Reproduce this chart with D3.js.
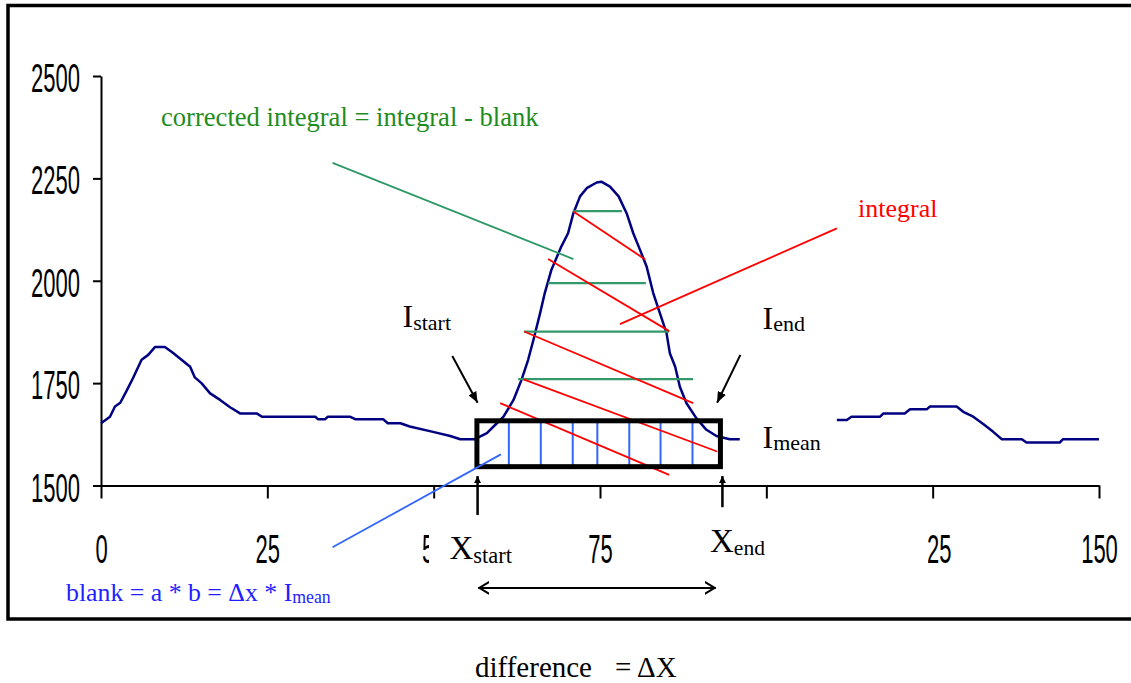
<!DOCTYPE html>
<html><head><meta charset="utf-8">
<script src="https://cdn.jsdelivr.net/npm/d3@7/dist/d3.min.js"></script>
<style>html,body{margin:0;padding:0;background:#fff;}svg{display:block;}</style>
</head><body>
<svg id="chart" width="1131" height="683"></svg>
<script>
// ---- data ----
const xTicks = [0, 25, 50, 75, 100, 125, 150];
const xHiddenLabels = [100]; // label fully covered by the X_end text box in the reference
const yTicks = [1500, 1750, 2000, 2250, 2500];

// signal, left segment (x, intensity)
const leftX = [0,1.35,2.1,2.9,3.9,4.8,6.1,7.1,8.1,9.6,10.8,12.1,13.4,14.1,15.1,16.4,17.9,19.4,20.9,23.4,24.2,32.2,32.6,33.7,34.1,37.4,38.2,42.4,43.1,45,46.4,49.9,52.5,54,56.2,58,59.5,60.5,62,63.2,64.2,65,66,66.7,67.7,69.2,70.2,71,72,73,74.5,75.2,76.5,77.8,79,80,81,82,83,84,85,85.5,86.3,87,88,89.5,91,92.5,94.5,96];
const leftY = [1652,1668,1693,1702,1733,1762,1807,1819,1838,1838,1824,1807,1790,1764,1750,1725,1709,1691,1676,1676,1668,1668,1662,1662,1668,1668,1662,1662,1652,1652,1644,1631,1621,1613,1613,1628,1652,1668,1709,1758,1807,1856,1921,1970,2027,2084,2116,2165,2206,2226,2240,2242,2230,2206,2165,2116,2076,2035,1970,1921,1872,1823,1790,1741,1701,1664,1636,1621,1613,1613];
// signal, right segment
const rightX = [110.6,112.1,112.8,117.1,117.6,120.8,121.6,124.1,124.6,128.6,129.6,131.1,132.6,134.1,135.4,138.4,139.1,144.1,144.6,150];
const rightY = [1660,1660,1668,1668,1676,1676,1686,1686,1693,1693,1680,1668,1650,1631,1613,1613,1605,1605,1613,1613];

// blank rectangle (x start/end, lower edge / I mean level)
const blankX = [56.5, 93.1];
const blankY = [1546, 1658];
const blankHatchX = [61.3, 66.1, 70.9, 74.6, 79.4, 84.1, 88.9];

// corrected-integral (green) hatch lines
const greenLevel = [2170, 1994, 1876, 1760];
const greenX1 = [70.9, 67.2, 63.6, 62.7];
const greenX2 = [78.3, 81.9, 85.4, 89.0];

// integral (red) hatch lines
const redX1 = [71.0, 67.2, 63.6, 63.5, 60.0];
const redY1 = [2169, 2053, 1876, 1759, 1701];
const redX2 = [81.8, 85.4, 89.0, 92.6, 85.4];
const redY2 = [2052, 1877, 1701, 1583, 1526];

// pointer lines [x1, y1, x2, y2] in data units
const greenPointer = [34.8, 2288, 71.0, 2053];
const redPointer = [78.0, 1894, 110.6, 2128];
const bluePointer = [34.8, 1349, 60.1, 1576];
const iStartArrow = [52.8, 1816, 56.6, 1702];
const iEndArrow = [96.1, 1819, 92.6, 1702];
const xStartArrow = [56.6, 1428, 56.6, 1523];
const xEndArrow = [93.4, 1447, 93.4, 1523];
const deltaArrow = [56.7, 1250, 92.4, 1250];

// ---- drawing ----
const svg = d3.select("#chart");
const serif = "'Liberation Serif','Times New Roman',serif";
const x = d3.scaleLinear().domain([0, 150]).range([101, 1099]);
const y = d3.scaleLinear().domain([1500, 2500]).range([485.5, 76]);

const defs = svg.append("defs");
function headMarker(id, len, wid, open) {
  const m = defs.append("marker").attr("id", id)
    .attr("markerUnits", "userSpaceOnUse")
    .attr("viewBox", `0 ${-wid/2} ${len} ${wid}`)
    .attr("refX", len).attr("refY", 0)
    .attr("markerWidth", len).attr("markerHeight", wid)
    .attr("orient", "auto-start-reverse");
  if (open) {
    m.append("path").attr("d", `M0,${-wid/2+1}L${len-1},0L0,${wid/2-1}`)
      .attr("fill", "none").attr("stroke", "#000").attr("stroke-width", 2);
  } else {
    m.append("path").attr("d", `M0,${-wid/2}L${len},0L0,${wid/2}Z`).attr("fill", "#000");
  }
}
headMarker("headBig", 11, 9, false);
headMarker("headSmall", 7, 7, false);
headMarker("headOpen", 11, 14, true);

// frame
svg.append("rect").attr("x", 8).attr("y", 5.5).attr("width", 1140).attr("height", 613.5)
  .attr("fill", "#fff").attr("stroke", "#000").attr("stroke-width", 3.5);

// axes
const yAxis = svg.append("g").attr("transform", `translate(${x(0)},0)`)
  .call(d3.axisLeft(y).tickValues(yTicks).tickSize(8).tickSizeOuter(0).tickFormat(d3.format("d")));
const xAxis = svg.append("g").attr("transform", `translate(0,${y(1500)})`)
  .call(d3.axisBottom(x).tickValues(xTicks).tickSize(13).tickSizeOuter(0)
    .tickFormat(d => xHiddenLabels.includes(d) ? "" : d3.format("d")(d)));
[xAxis, yAxis].forEach(g => {
  g.select(".domain").attr("stroke", "#000").attr("stroke-width", 2);
  g.selectAll(".tick line").attr("stroke", "#000").attr("stroke-width", 2);
  g.selectAll("text").attr("font-family", "'Liberation Sans',Arial,sans-serif")
    .attr("font-size", 40).attr("fill", "#000").attr("dy", null).attr("y", null).attr("x", null);
});
yAxis.selectAll("text").attr("text-anchor", "end").attr("transform", "translate(-21,15.5) scale(0.55,1)");
xAxis.selectAll("text").attr("text-anchor", "middle").attr("transform", "translate(0,77.5) scale(0.55,1)");

// signal curve
const line = d3.line().x(d => x(d[0])).y(d => y(d[1]));
[[leftX, leftY], [rightX, rightY]].forEach(([xs, ys]) => {
  svg.append("path").datum(xs.map((v, i) => [v, ys[i]]))
    .attr("d", line).attr("fill", "none").attr("stroke", "#000080")
    .attr("stroke-width", 2.5).attr("stroke-linejoin", "round");
});

// blank hatch (blue verticals)
svg.append("g").selectAll("line").data(blankHatchX).join("line")
  .attr("x1", d => x(d)).attr("x2", d => x(d))
  .attr("y1", y(blankY[1])).attr("y2", y(blankY[0]))
  .attr("stroke", "#3366ff").attr("stroke-width", 2);

// green hatch
svg.append("g").selectAll("line").data(greenLevel).join("line")
  .attr("x1", (d, i) => x(greenX1[i])).attr("x2", (d, i) => x(greenX2[i]))
  .attr("y1", d => y(d)).attr("y2", d => y(d))
  .attr("stroke", "#33996b").attr("stroke-width", 2.2);

// red hatch
svg.append("g").selectAll("line").data(redX1).join("line")
  .attr("x1", d => x(d)).attr("y1", (d, i) => y(redY1[i]))
  .attr("x2", (d, i) => x(redX2[i])).attr("y2", (d, i) => y(redY2[i]))
  .attr("stroke", "#ff0000").attr("stroke-width", 1.8);

// blank rectangle
svg.append("rect").attr("x", x(blankX[0])).attr("y", y(blankY[1]))
  .attr("width", x(blankX[1]) - x(blankX[0])).attr("height", y(blankY[0]) - y(blankY[1]))
  .attr("fill", "none").attr("stroke", "#000").attr("stroke-width", 5);

// pointer lines
function seg(p, color, w, marker) {
  const l = svg.append("line").attr("x1", x(p[0])).attr("y1", y(p[1]))
    .attr("x2", x(p[2])).attr("y2", y(p[3])).attr("stroke", color).attr("stroke-width", w);
  if (marker) l.attr("marker-end", `url(#${marker})`);
  return l;
}
seg(greenPointer, "#2e9966", 1.8);
seg(redPointer, "#ff0000", 1.8);
seg(bluePointer, "#3366ff", 1.8);

// white label boxes (text boxes of the annotation labels)
svg.append("rect").attr("x", 429).attr("y", 520).attr("width", 112).attr("height", 56).attr("fill", "#fff");
svg.append("rect").attr("x", 700).attr("y", 520).attr("width", 228).attr("height", 56).attr("fill", "#fff");
svg.append("rect").attr("x", 741).attr("y", 405).attr("width", 95).attr("height", 55).attr("fill", "#fff");

// arrows
seg(iStartArrow, "#000", 2, "headBig");
seg(iEndArrow, "#000", 2, "headBig");
seg(xStartArrow, "#000", 2.5, "headSmall");
seg(xEndArrow, "#000", 2.5, "headSmall");
seg(deltaArrow, "#000", 2, "headOpen").attr("marker-start", "url(#headOpen)");

// labels
function subLabel(px, py, main, sub, mainSize, subSize, color, dy) {
  const t = svg.append("text").attr("x", px).attr("y", py)
    .attr("font-family", serif).attr("fill", color || "#000");
  t.append("tspan").attr("font-size", mainSize).text(main);
  t.append("tspan").attr("font-size", subSize).attr("dy", dy).text(sub);
  return t;
}
subLabel(402.5, 326.7, "I", "start", 32, 22, "#000", 3.3);
subLabel(762.5, 329.3, "I", "end", 32, 22, "#000", 1.5);
subLabel(762.5, 447.7, "I", "mean", 32, 22, "#000", 2.3);
subLabel(449.5, 559.3, "X", "start", 33, 22.5, "#000", 3.4);
subLabel(710, 551.7, "X", "end", 33, 21.5, "#000", 3.3);

svg.append("text").attr("x", 161).attr("y", 126).attr("font-family", serif)
  .attr("font-size", 26.6).attr("fill", "#1e8c1e").text("corrected integral = integral - blank");
svg.append("text").attr("x", 858).attr("y", 216.7).attr("font-family", serif)
  .attr("font-size", 26).attr("fill", "#ff0000").text("integral");

const bt = svg.append("text").attr("x", 66).attr("y", 600.7).attr("font-family", serif).attr("fill", "#1f1fff");
bt.append("tspan").attr("font-size", 25.8).text("blank = a * b = \u0394x * I");
bt.append("tspan").attr("font-size", 17.8).attr("dy", 2.3).text("mean");

svg.append("text").attr("x", 475).attr("y", 676.5).attr("font-family", serif)
  .attr("font-size", 29).attr("fill", "#000").text("difference");
svg.append("text").attr("x", 615).attr("y", 676.5).attr("font-family", serif)
  .attr("font-size", 29).attr("fill", "#000").text("= \u0394X");
</script>
</body></html>
